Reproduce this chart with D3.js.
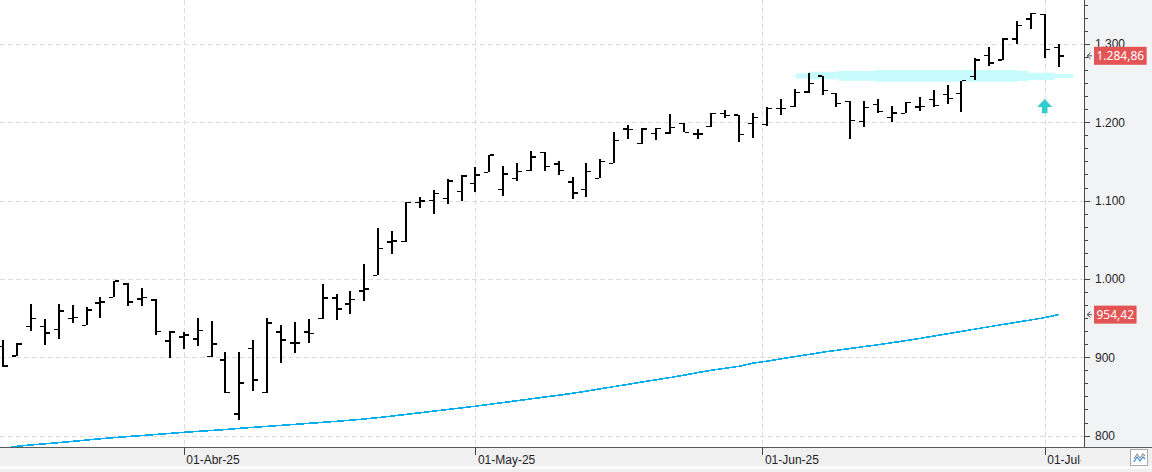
<!DOCTYPE html>
<html>
<head>
<meta charset="utf-8">
<title>OHLC bars</title>
<script src="https://cdn.jsdelivr.net/npm/d3@7"></script>
<style>
  body { margin: 0; background: #fff; }
  svg { display: block; font-family: "Segoe UI", "Noto Sans", sans-serif; }
  .grid line { stroke: #dcdcdc; stroke-dasharray: 5,3; shape-rendering: crispEdges; }
  .axis path { display: none; }
  .axis line { stroke: #444; shape-rendering: crispEdges; }
  .axis text { fill: #1e1e28; font-size: 12px; }
  .bar rect { fill: #000; shape-rendering: crispEdges; }
</style>
</head>
<body>
<svg width="1152" height="472"></svg>
<script>

// trading days shown on the chart
var days = [
  "2025-03-13","2025-03-14","2025-03-17","2025-03-18","2025-03-19","2025-03-20","2025-03-21",
  "2025-03-24","2025-03-25","2025-03-26","2025-03-27","2025-03-28","2025-03-31",
  "2025-04-01","2025-04-02","2025-04-03","2025-04-04","2025-04-07","2025-04-08","2025-04-09",
  "2025-04-10","2025-04-11","2025-04-14","2025-04-15","2025-04-16","2025-04-17","2025-04-21",
  "2025-04-22","2025-04-23","2025-04-24","2025-04-25","2025-04-28","2025-04-29","2025-04-30",
  "2025-05-01","2025-05-02","2025-05-05","2025-05-06","2025-05-07","2025-05-08","2025-05-09",
  "2025-05-12","2025-05-13","2025-05-14","2025-05-15","2025-05-16","2025-05-19","2025-05-20",
  "2025-05-21","2025-05-22","2025-05-23","2025-05-27","2025-05-28","2025-05-29","2025-05-30",
  "2025-06-02","2025-06-03","2025-06-04","2025-06-05","2025-06-06","2025-06-09","2025-06-10",
  "2025-06-11","2025-06-12","2025-06-13","2025-06-16","2025-06-17","2025-06-18","2025-06-20",
  "2025-06-23","2025-06-24","2025-06-25","2025-06-26","2025-06-27","2025-06-30",
  "2025-07-01","2025-07-02"
];

var open = [914.1, 901.4, 939.6, 939.6, 935.8, 949.3, 940.9, 969.4, 976.6, 993.6,
  974.5, 973.2, 920.9, 925.6, 923.4, 900.9, 896.6, 827.3, 911.5, 854.9,
  932.0, 918.3, 932.0, 949.3, 975.4, 968.1, 984.7, 1004.7, 1047.2, 1048.1,
  1097.9, 1100.4, 1102.5, 1111.9, 1122.2, 1136.2, 1114.5, 1128.0, 1138.2, 1161.7,
  1146.8, 1123.8, 1114.5, 1128.5, 1147.7, 1191.4, 1173.2, 1185.5, 1186.3, 1198.2,
  1185.1, 1194.9, 1211.0, 1209.3, 1198.7, 1197.0, 1217.9, 1219.9, 1238.7, 1259.1,
  1237.0, 1226.8, 1201.3, 1222.5, 1205.9, 1211.5, 1219.5, 1229.4, 1235.2, 1237.0,
  1258.7, 1285.5, 1279.5, 1306.3, 1331.9, 1337.8, 1295.7];
var high = [922.2, 918.7, 968.1, 949.0, 968.1, 966.8, 963.8, 977.4, 997.9, 995.3,
  988.5, 974.1, 934.0, 932.0, 950.2, 946.4, 906.9, 906.9, 922.2, 949.8,
  940.9, 944.7, 948.6, 993.2, 980.5, 984.3, 1019.2, 1065.1, 1061.3, 1098.7,
  1105.1, 1113.6, 1127.3, 1132.7, 1142.3, 1158.3, 1144.2, 1147.7, 1163.0, 1161.7,
  1151.0, 1129.8, 1147.7, 1152.8, 1187.2, 1197.0, 1193.1, 1192.3, 1210.6, 1198.7,
  1191.4, 1211.5, 1215.3, 1209.3, 1211.5, 1219.1, 1229.4, 1242.1, 1262.5, 1259.1,
  1237.0, 1226.8, 1227.6, 1229.4, 1220.4, 1225.5, 1231.9, 1241.2, 1247.6, 1253.1,
  1281.7, 1296.5, 1307.2, 1329.7, 1339.9, 1337.8, 1300.0];
var low = [887.3, 901.0, 934.0, 916.2, 923.8, 944.2, 940.9, 950.6, 976.6, 966.0,
  966.0, 928.9, 899.6, 911.1, 914.9, 900.5, 854.1, 820.1, 857.5, 854.9,
  893.2, 905.9, 918.7, 948.6, 947.7, 955.7, 972.3, 1004.7, 1031.5, 1047.6,
  1090.2, 1082.6, 1095.4, 1099.9, 1111.4, 1136.2, 1106.3, 1125.5, 1138.2, 1138.2,
  1132.4, 1102.5, 1105.1, 1128.5, 1147.7, 1179.1, 1172.3, 1177.8, 1185.5, 1187.2,
  1179.1, 1194.4, 1205.9, 1175.3, 1180.4, 1195.7, 1209.3, 1219.9, 1237.4, 1234.5,
  1219.9, 1179.1, 1194.4, 1211.5, 1200.4, 1211.5, 1214.8, 1219.9, 1223.8, 1213.5,
  1254.0, 1272.2, 1279.5, 1300.3, 1319.5, 1281.7, 1271.0];
var close = [889.0, 917.0, 949.8, 931.1, 958.8, 951.1, 960.1, 970.7, 997.5, 970.3,
  976.6, 933.2, 932.4, 928.5, 934.5, 916.7, 854.9, 866.9, 871.1, 943.9,
  921.8, 918.3, 930.7, 975.4, 961.4, 974.1, 987.2, 1039.2, 1048.5, 1097.4,
  1099.6, 1109.4, 1125.1, 1131.5, 1132.7, 1158.3, 1134.0, 1137.5, 1155.7, 1143.9,
  1138.2, 1109.8, 1137.5, 1150.2, 1177.0, 1191.1, 1191.4, 1192.3, 1193.6, 1187.2,
  1185.1, 1211.5, 1208.4, 1184.2, 1206.4, 1217.9, 1217.9, 1238.3, 1249.8, 1240.9,
  1224.3, 1202.5, 1219.1, 1214.0, 1211.9, 1225.5, 1220.4, 1221.7, 1230.6, 1253.1,
  1279.5, 1275.7, 1306.3, 1323.3, 1339.1, 1293.2, 1284.86];

// moving average
var sma = [783.0, 786.4, 788.0, 789.5, 791.0, 792.6, 794.3, 796.0, 797.4, 798.8,
  800.0, 801.4, 802.8, 804.2, 805.3, 806.5, 807.7, 809.2, 810.5, 811.8,
  813.0, 814.3, 815.6, 816.9, 818.2, 819.6, 821.2, 822.9, 824.9, 827.0,
  829.1, 831.2, 833.3, 835.4, 837.5, 839.8, 842.2, 844.5, 846.8, 849.3,
  851.5, 854.0, 856.8, 859.7, 862.6, 865.5, 868.4, 871.2, 874.0, 877.0,
  880.5, 883.4, 886.0, 888.5, 892.5, 895.0, 898.0, 900.8, 903.5, 906.4,
  908.8, 911.2, 913.6, 916.0, 918.6, 921.2, 924.0, 927.0, 930.0, 933.0,
  936.0, 939.0, 941.9, 944.8, 947.6, 950.6, 954.42];

var yTicks = [800, 900, 1000, 1100, 1200, 1300];
var monthTicks = ["2025-04-01", "2025-05-01", "2025-06-01", "2025-07-01"];
var monthLabels = ["01-Abr-25", "01-May-25", "01-Jun-25", "01-Jul-25"];

// highlighter stroke (bar index, top, bottom) and the arrow marker
var hlIdx = [56.9, 57.1, 57.9, 60.1, 62.8, 73.1, 73.8, 75.7, 77.05];
var hlTop = [1260.5, 1262.5, 1264.6, 1265.5, 1266.8, 1265.9, 1263.3, 1261.7, 1259.3];
var hlBot = [1258.5, 1256.2, 1254.9, 1253.1, 1251.8, 1252.7, 1254.0, 1256.5, 1258.8];
var arrowAt = {i: 75, tip: 1229.7, neck: 1219.5, base: 1211.5};

var svg = d3.select("svg"),
    width = +svg.attr("width"),
    height = +svg.attr("height");

var plotW = 1084, plotH = 447;

var loc = d3.formatLocale({decimal: ",", thousands: ".", grouping: [3], currency: ["", ""]});
var fmtTick = loc.format(",d"),
    fmtPrice = loc.format(",.2f");

var x = d3.scaleLinear().domain([0, days.length - 1]).range([3.3, 1058.6]);
var y = d3.scaleLinear().domain([785.8, 1356.1]).range([446.7, 0]);

function dayIndex(s) {
  var k = days.indexOf(s);
  if (k >= 0) return k;
  var t = new Date(s), p = 0;
  while (p < days.length - 1 && new Date(days[p + 1]) < t) p++;
  var a = new Date(days[p]), b = new Date(days[p + 1]);
  return p + (t - a) / (b - a);
}
var monthIdx = monthTicks.map(dayIndex);

// backgrounds
svg.append("rect").attr("x", plotW).attr("y", 0).attr("width", width - plotW).attr("height", plotH)
    .attr("fill", "#f2f3f5");
svg.append("rect").attr("x", 0).attr("y", plotH).attr("width", width).attr("height", height - plotH)
    .attr("fill", "#f0f0f0");
svg.append("rect").attr("x", 0).attr("y", 466.5).attr("width", width).attr("height", 2)
    .attr("fill", "#fff");

var defs = svg.append("defs");
defs.append("clipPath").attr("id", "plot")
  .append("rect").attr("width", plotW).attr("height", plotH);
defs.append("clipPath").attr("id", "xlab")
  .append("rect").attr("x", 0).attr("y", plotH).attr("width", 1081).attr("height", 30);

// grid
var grid = svg.append("g").attr("class", "grid");
grid.selectAll(".h").data(yTicks).enter().append("line")
    .attr("x1", 0).attr("x2", plotW)
    .attr("y1", function(d) { return Math.round(y(d)) + 0.5; })
    .attr("y2", function(d) { return Math.round(y(d)) + 0.5; });
grid.selectAll(".v").data(monthIdx).enter().append("line")
    .attr("y1", 0).attr("y2", plotH)
    .attr("x1", function(d) { return Math.round(x(d)) + 0.5; })
    .attr("x2", function(d) { return Math.round(x(d)) + 0.5; });

var plot = svg.append("g").attr("clip-path", "url(#plot)");

// highlighter
var hl = hlIdx.map(function(d, i) { return {i: d, t: hlTop[i], b: hlBot[i]}; });
plot.append("path")
    .datum(hl)
    .attr("fill", "#c8fbfc")
    .attr("d", d3.area()
      .curve(d3.curveStepAfter)
      .x(function(d) { return x(d.i); })
      .y0(function(d) { return y(d.b); })
      .y1(function(d) { return y(d.t); }));

// moving average
plot.append("path")
    .datum(sma)
    .attr("fill", "none")
    .attr("stroke", "#00aeef")
    .attr("stroke-width", 1.6)
    .attr("shape-rendering", "crispEdges")
    .attr("d", d3.line()
      .x(function(d, i) { return x(i); })
      .y(function(d) { return y(d); }));

// OHLC bars
var bars = plot.append("g").attr("class", "bar")
  .selectAll("g")
  .data(days)
  .enter()
  .append("g");

bars.append("rect")
    .attr("x", function(d, i) { return Math.round(x(i)) - 1; })
    .attr("width", 2)
    .attr("y", function(d, i) { return y(high[i]); })
    .attr("height", function(d, i) { return Math.max(1, y(low[i]) - y(high[i])); });
bars.append("rect")
    .attr("x", function(d, i) { return Math.round(x(i)) - 5; })
    .attr("width", 4)
    .attr("y", function(d, i) { return y(open[i]) - 0.7; })
    .attr("height", 1.4);
bars.append("rect")
    .attr("x", function(d, i) { return Math.round(x(i)) + 1; })
    .attr("width", 4)
    .attr("y", function(d, i) { return y(close[i]) - 0.7; })
    .attr("height", 1.4);

// arrow marker
var ax = x(arrowAt.i);
svg.append("path")
    .attr("fill", "#33cccc")
    .attr("d", "M" + ax + "," + y(arrowAt.tip) +
      "L" + (ax + 7.5) + "," + y(arrowAt.neck) +
      "L" + (ax + 2.8) + "," + y(arrowAt.neck) +
      "L" + (ax + 2.8) + "," + y(arrowAt.base) +
      "L" + (ax - 2.8) + "," + y(arrowAt.base) +
      "L" + (ax - 2.8) + "," + y(arrowAt.neck) +
      "L" + (ax - 7.5) + "," + y(arrowAt.neck) + "Z");

// axis lines
svg.append("line").attr("x1", plotW + 0.5).attr("x2", plotW + 0.5).attr("y1", 0).attr("y2", plotH)
    .attr("stroke", "#4a4a4a");
svg.append("line").attr("x1", 0).attr("x2", width).attr("y1", plotH + 0.5).attr("y2", plotH + 0.5)
    .attr("stroke", "#5a5a5a");

// right axis
var minor = d3.range(-1, 35).map(function(k) { return 800 + k * 100 / 6; })
    .filter(function(v) { return v > 786 && v < 1356; });
svg.append("g").attr("class", "axis")
    .attr("transform", "translate(" + plotW + ",0)")
    .call(d3.axisRight(y).tickValues(minor).tickSize(4).tickFormat(""));
svg.append("g").attr("class", "axis")
    .attr("transform", "translate(" + plotW + ",0)")
    .call(d3.axisRight(y).tickValues(yTicks).tickSize(6).tickPadding(5).tickFormat(fmtTick));

// bottom axis
var xa = svg.append("g").attr("class", "axis")
    .attr("clip-path", "url(#xlab)")
    .append("g")
    .attr("transform", "translate(0," + plotH + ")")
    .call(d3.axisBottom(x).tickValues(monthIdx).tickSize(8)
      .tickFormat(function(d, i) { return monthLabels[i]; }));
xa.selectAll("text")
    .attr("text-anchor", "start")
    .attr("x", 2)
    .attr("y", 16.5)
    .attr("dy", null);

// last value tags
var tags = [{v: close[close.length - 1]}, {v: sma[sma.length - 1]}];
tags.forEach(function(t) {
  var ty = y(t.v);
  var g = svg.append("g");
  g.append("path")
      .attr("d", "M1090.5," + (ty - 3) + "L1087," + ty + "L1090.5," + (ty + 3) + "M1087," + ty + "H1092")
      .attr("fill", "none").attr("stroke", "#555").attr("stroke-width", 1);
  var txt = g.append("text")
      .attr("x", 1096.5).attr("y", ty + 4.3)
      .attr("fill", "#fff").attr("font-size", "12px")
      .text(fmtPrice(t.v));
  var w = txt.node().getComputedTextLength();
  g.insert("rect", "text")
      .attr("x", 1094).attr("y", ty - 9)
      .attr("width", w + 5).attr("height", 18)
      .attr("fill", "#e35555");
});

// corner icon
var ic = svg.append("g");
ic.append("rect").attr("x", 1130.5).attr("y", 449.5).attr("width", 17).attr("height", 16)
    .attr("fill", "#fff").attr("stroke", "#aaa");
ic.append("path").attr("d", "M1134,459 L1137,454 L1140,458 L1143,454 L1145,456")
    .attr("fill", "none").attr("stroke", "#999").attr("stroke-width", 1.2);
ic.append("path").attr("d", "M1134,462 L1137,457 L1140,461 L1143,457 L1145,459")
    .attr("fill", "none").attr("stroke", "#3d8fd8").attr("stroke-width", 1.2);

</script>
</body>
</html>
